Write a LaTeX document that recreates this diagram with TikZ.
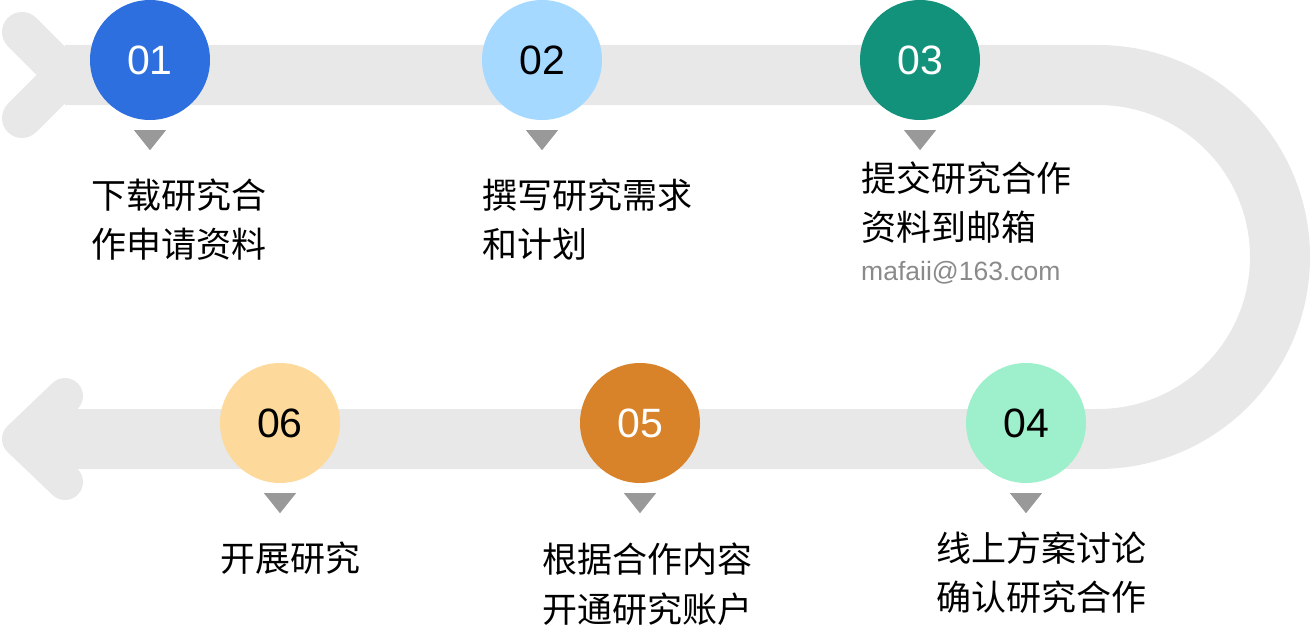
\documentclass[tikz,border=0pt]{standalone}
\usepackage{fontspec}
\setmainfont{Liberation Sans}
\newfontfamily\cjk{Noto Sans CJK SC}
\usetikzlibrary{calc}

\definecolor{trackgray}{HTML}{E8E8E8}
\definecolor{ptrgray}{HTML}{999999}
\definecolor{mailgray}{HTML}{8A8A8A}
\definecolor{cA}{HTML}{2E6FDF}
\definecolor{cB}{HTML}{A6D9FF}
\definecolor{cC}{HTML}{12927B}
\definecolor{cD}{HTML}{9EEFCB}
\definecolor{cE}{HTML}{D8822A}
\definecolor{cF}{HTML}{FDD99B}

\tikzset{
  stepcircle/.style={circle, minimum size=120pt, inner sep=0pt, font=\fontsize{41}{41}\selectfont},
  steptext/.style={anchor=base west, inner sep=0pt, font=\cjk\fontsize{35}{35}\selectfont},
}

\begin{document}
\begin{tikzpicture}[x=1pt,y=-1pt]
\useasboundingbox (0,0) rectangle (1312,634);
% track
\draw[trackgray, line width=40pt, line cap=round, line join=round] (22,32) -- (65,75) -- (22,118);
\draw[trackgray, line width=60pt] (65,75) -- (1098,75) arc[start angle=-90, end angle=90, radius=182] -- (64,439);
\fill[trackgray] (20,439) -- (65,396) -- (65,482) -- cycle;
\draw[trackgray, line width=36pt, line cap=round, line join=round] (65,396) -- (20,439) -- (65,482);
% steps
\foreach \n/\x/\y/\col/\num in {1/150/60/cA/white, 2/542/60/cB/black, 3/920/60/cC/white, 4/1026/423/cD/black, 5/640/423/cE/white, 6/280/423/cF/black}
{
  \node[stepcircle, fill=\col, text=\num] (c\n) at (\x,\y) {0\n};
  \fill[ptrgray] ($(c\n.south)+(-16,10)$) --++(32,0) --++(-16,20) -- cycle;
}
% labels
\node[steptext] (t1a) at (91,208) {下载研究合};
\node[steptext] (t1b) at (91,257) {作申请资料};
\node[steptext] (t2a) at (482,208) {撰写研究需求};
\node[steptext] (t2b) at (482,257) {和计划};
\node[steptext] (t3a) at (861,191) {提交研究合作};
\node[steptext] (t3b) at (861,240) {资料到邮箱};
\node[anchor=base west, inner sep=0pt, text=mailgray, font=\fontsize{26.5}{26.5}\selectfont] (mail) at (861,280) {mafaii@163.com};
\node[steptext] (t4a) at (936,561) {线上方案讨论};
\node[steptext] (t4b) at (936,610) {确认研究合作};
\node[steptext] (t5a) at (542,572) {根据合作内容};
\node[steptext] (t5b) at (542,622) {开通研究账户};
\node[steptext] (t6a) at (220,571) {开展研究};

\end{tikzpicture}
\end{document}
